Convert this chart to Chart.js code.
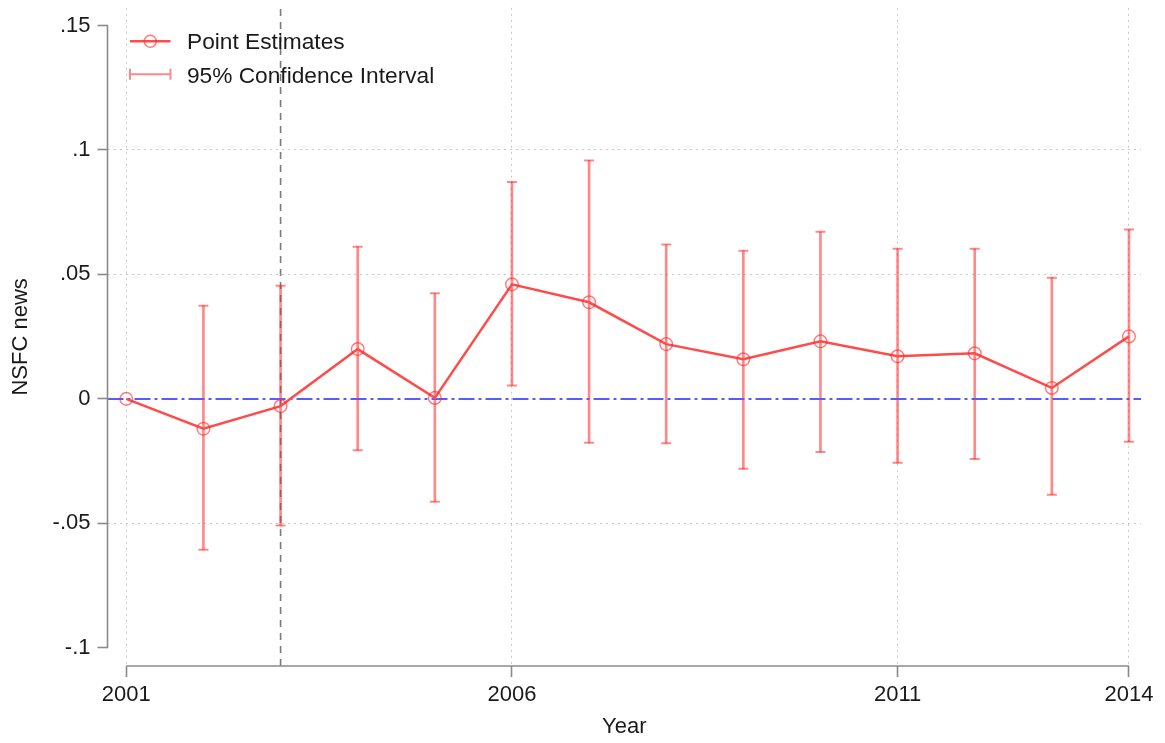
<!DOCTYPE html>
<html>
<head>
<meta charset="utf-8">
<title>NSFC news event study</title>
<script src="https://cdn.jsdelivr.net/npm/chart.js@4.4.0/dist/chart.umd.min.js"></script>
<style>
  html, body { margin: 0; padding: 0; background: #ffffff; }
  canvas { display: block; }
</style>
</head>
<body>
<canvas id="chart" width="1165" height="743"></canvas>
<script>
// ---- data ----
const years     = [2001, 2002, 2003, 2004, 2005, 2006, 2007, 2008, 2009, 2010, 2011, 2012, 2013, 2014];
const estimates = [0, -0.0120, -0.0029, 0.0200, 0.0004, 0.0460, 0.0388, 0.0220, 0.0159, 0.0231, 0.0171, 0.0183, 0.0044, 0.0251];
const ciLower   = [null, -0.0606, -0.0509, -0.0206, -0.0413, 0.0054, -0.0176, -0.0178, -0.0281, -0.0213, -0.0257, -0.0241, -0.0385, -0.0172];
const ciUpper   = [null, 0.0374, 0.0454, 0.0611, 0.0424, 0.0871, 0.0958, 0.0620, 0.0595, 0.0671, 0.0603, 0.0603, 0.0487, 0.0680];

const xTickValues = [2001, 2006, 2011, 2014];
const xTickLabels = ['2001', '2006', '2011', '2014'];
const yTickValues = [0.15, 0.1, 0.05, 0, -0.05, -0.1];
const yTickLabels = ['.15', '.1', '.05', '0', '-.05', '-.1'];
const yGridValues = [0.1, 0.05, -0.05];
const legendLabels = ['Point Estimates', '95% Confidence Interval'];
const treatmentYear = 2003;
const referenceValue = 0;
const xLimits = [2000.756, 2014.156];
const yLimits = [-0.1073, 0.1571];

// ---- styles ----
const FONT = "'Liberation Sans', Arial, Helvetica, sans-serif";
const TEXT = '#1a1a1a';
const AXIS = '#8a8a8a';
const GRID = '#c9c9c9';
const LINE = '#ff4b4b';
const CI = 'rgba(255, 40, 40, 0.55)';
const MARKER = 'rgba(255, 40, 40, 0.6)';
const REF = '#5a5aff';
const VLINE = '#7a7a7a';

Chart.defaults.font.family = FONT;
Chart.defaults.font.size = 22;
Chart.defaults.color = TEXT;

const ciBars = [];
const ciCaps = [];
years.forEach((yr, i) => {
  if (ciLower[i] === null) return;
  ciBars.push({ x: yr, y: [ciLower[i], ciUpper[i]] });
  ciCaps.push({ x: yr, y: ciLower[i] });
  ciCaps.push({ x: yr, y: ciUpper[i] });
});
const estimatePoints = years.map((yr, i) => ({ x: yr, y: estimates[i] }));

// axis lines that run only between the first and last tick (Stata style)
const axisLines = {
  id: 'axisLines',
  afterDatasetsDraw(chart) {
    const { ctx, chartArea, scales: { x, y } } = chart;
    ctx.save();
    ctx.strokeStyle = AXIS;
    ctx.lineWidth = 1.6;
    ctx.beginPath();
    ctx.moveTo(chartArea.left, y.getPixelForValue(yTickValues[0]));
    ctx.lineTo(chartArea.left, y.getPixelForValue(yTickValues[yTickValues.length - 1]));
    ctx.moveTo(x.getPixelForValue(xTickValues[0]), chartArea.bottom);
    ctx.lineTo(x.getPixelForValue(xTickValues[xTickValues.length - 1]), chartArea.bottom);
    ctx.stroke();
    ctx.restore();
  }
};

// legend box in the upper-left corner of the plot region
const cornerLegend = {
  id: 'cornerLegend',
  afterDraw(chart) {
    const { ctx, chartArea } = chart;
    const x0 = chartArea.left + 22.5;
    const x1 = x0 + 40.5;
    const r1 = chartArea.top + 33.5;
    const r2 = r1 + 33;
    ctx.save();
    // point estimates symbol
    ctx.strokeStyle = LINE;
    ctx.lineWidth = 2.5;
    ctx.beginPath();
    ctx.moveTo(x0, r1);
    ctx.lineTo(x1, r1);
    ctx.stroke();
    ctx.strokeStyle = MARKER;
    ctx.lineWidth = 1.5;
    ctx.beginPath();
    ctx.arc((x0 + x1) / 2, r1, 6, 0, Math.PI * 2);
    ctx.stroke();
    // confidence interval symbol
    ctx.strokeStyle = CI;
    ctx.lineWidth = 2;
    ctx.beginPath();
    ctx.moveTo(x0, r2);
    ctx.lineTo(x1, r2);
    ctx.moveTo(x0, r2 - 5.5);
    ctx.lineTo(x0, r2 + 5.5);
    ctx.moveTo(x1, r2 - 5.5);
    ctx.lineTo(x1, r2 + 5.5);
    ctx.stroke();
    // labels
    ctx.fillStyle = TEXT;
    ctx.font = '22.7px ' + FONT;
    ctx.textAlign = 'left';
    ctx.textBaseline = 'alphabetic';
    ctx.fillText(legendLabels[0], x0 + 57, r1 + 8);
    ctx.fillText(legendLabels[1], x0 + 57, r2 + 8.5);
    ctx.restore();
  }
};

new Chart(document.getElementById('chart'), {
  type: 'line',
  data: {
    datasets: [
      {
        type: 'line',
        label: 'treatment',
        data: [{ x: treatmentYear, y: yLimits[0] }, { x: treatmentYear, y: yLimits[1] }],
        borderColor: VLINE,
        borderWidth: 1.6,
        borderDash: [7, 6],
        pointRadius: 0,
        order: 6
      },
      {
        type: 'bar',
        label: 'ci',
        data: ciBars,
        backgroundColor: CI,
        borderWidth: 0,
        barThickness: 2,
        grouped: false,
        order: 5
      },
      {
        type: 'scatter',
        label: 'caps',
        data: ciCaps,
        showLine: false,
        pointStyle: 'line',
        pointRadius: 5,
        borderColor: CI,
        pointBorderWidth: 2,
        order: 4
      },
      {
        type: 'line',
        label: 'reference',
        data: [{ x: xLimits[0], y: referenceValue }, { x: xLimits[1], y: referenceValue }],
        borderColor: REF,
        borderWidth: 2,
        borderDash: [16, 4, 3, 4],
        pointRadius: 0,
        order: 3
      },
      {
        type: 'line',
        label: legendLabels[0],
        data: estimatePoints,
        borderColor: LINE,
        borderWidth: 2.5,
        tension: 0,
        pointStyle: 'circle',
        pointRadius: 6.3,
        pointBorderWidth: 1.5,
        pointBorderColor: MARKER,
        pointBackgroundColor: 'rgba(0,0,0,0)',
        order: 1
      }
    ]
  },
  options: {
    responsive: false,
    animation: false,
    events: [],
    layout: { padding: { left: 0, top: 5, right: 24, bottom: 0 } },
    plugins: { legend: { display: false }, tooltip: { enabled: false } },
    scales: {
      x: {
        type: 'linear',
        min: xLimits[0],
        max: xLimits[1],
        offset: false,
        afterBuildTicks: s => { s.ticks = xTickValues.map(v => ({ value: v })); },
        afterFit: s => { s.height = 77; s.paddingLeft = 0; s.paddingRight = 0; },
        ticks: {
          autoSkip: false,
          maxRotation: 0,
          padding: 5,
          color: TEXT,
          callback: (v, i) => xTickLabels[i]
        },
        grid: {
          offset: false,
          color: GRID,
          lineWidth: 1,
          tickLength: 11,
          tickColor: AXIS,
          tickWidth: 1.6,
          tickBorderDash: []
        },
        border: { display: false, dash: [2, 4] },
        title: {
          display: true,
          text: 'Year',
          color: TEXT,
          padding: { top: 0, bottom: 2.5 }
        }
      },
      y: {
        type: 'linear',
        min: yLimits[0],
        max: yLimits[1],
        afterBuildTicks: s => { s.ticks = yTickValues.map(v => ({ value: v })); },
        afterFit: s => { s.width = 107.5; s.paddingTop = 0; s.paddingBottom = 0; },
        ticks: {
          autoSkip: false,
          padding: 7,
          color: TEXT,
          callback: (v, i) => yTickLabels[i]
        },
        grid: {
          offset: false,
          color: c => (c.tick && yGridValues.includes(c.tick.value)) ? GRID : 'rgba(0,0,0,0)',
          lineWidth: 1,
          tickLength: 10,
          tickColor: AXIS,
          tickWidth: 1.6,
          tickBorderDash: []
        },
        border: { display: false, dash: [2, 4] },
        title: {
          display: true,
          text: 'NSFC news',
          color: TEXT,
          padding: { top: 7.5, bottom: 0 }
        }
      }
    }
  },
  plugins: [axisLines, cornerLegend]
});
</script>
</body>
</html>
